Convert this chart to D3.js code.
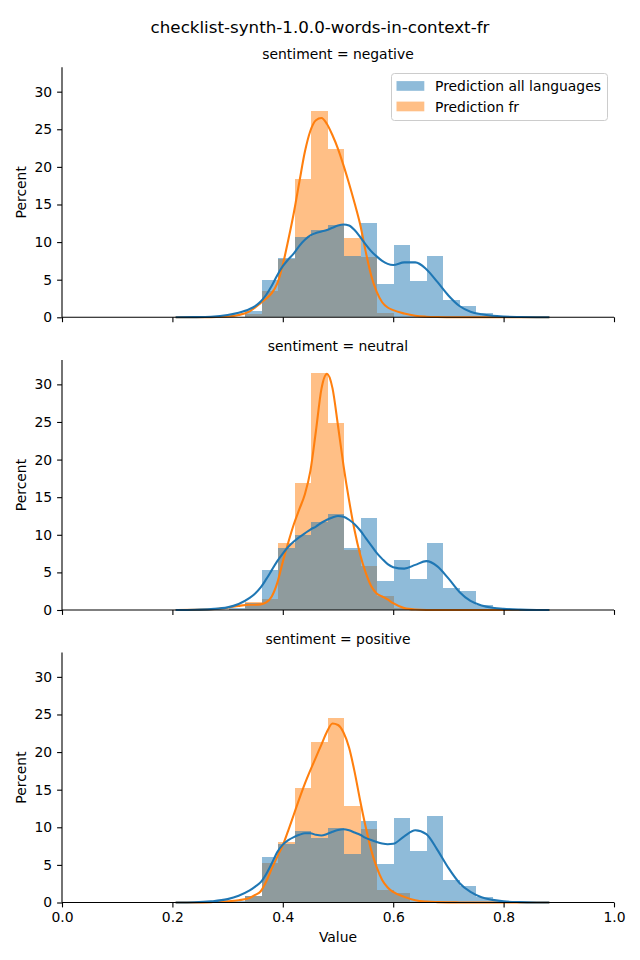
<!DOCTYPE html>
<html><head><meta charset="utf-8">
<script src="https://cdn.jsdelivr.net/npm/d3@7"></script>
<style>body{margin:0;background:#fff} text{font-family:"DejaVu Sans",sans-serif;fill:#000}</style>
</head><body>
<svg id="c" width="640" height="960"></svg>
<script>
// ---------- data ----------
const chartTitle = "checklist-synth-1.0.0-words-in-context-fr";
const facets = ["sentiment = negative", "sentiment = neutral", "sentiment = positive"];
const seriesNames = ["Prediction all languages", "Prediction fr"];
const seriesColors = ["#1f77b4", "#ff7f0e"];
const xTicks = [0, 0.2, 0.4, 0.6, 0.8, 1.0];
const yTicks = [0, 5, 10, 15, 20, 25, 30];

// histogram bins (percent per bin)
const binStart = 0.2119, binWidth = 0.02993;
const histAllNegative = [0, 0, 0.03, 0.1, 0.8, 4.95, 7.9, 10.7, 11.6, 12.3, 8.2, 12.6, 4.45, 9.6, 4.8, 8.2, 2.3, 1.5, 0.55, 0.2];
const histFrNegative  = [0, 0, 0.02, 0.08, 0.5, 3.5, 7.7, 18.4, 27.4, 22.4, 10.5, 8.0, 0.6, 0.1, 0, 0, 0, 0, 0, 0];
const histAllNeutral  = [0, 0, 0.05, 0.2, 0.9, 5.3, 8.2, 10.0, 11.7, 12.8, 8.3, 12.2, 3.9, 6.6, 4.1, 8.9, 2.9, 2.5, 0.7, 0.2];
const histFrNeutral   = [0, 0, 0.03, 0.15, 1.1, 1.5, 8.9, 16.9, 31.5, 24.9, 8.0, 5.9, 1.8, 0.3, 0, 0, 0, 0, 0, 0];
const histAllPositive = [0, 0, 0.05, 0.2, 0.9, 6.0, 7.8, 9.5, 8.6, 9.9, 6.4, 10.8, 5.1, 11.2, 6.8, 11.5, 3.0, 2.2, 0.75, 0.2];
const histFrPositive  = [0, 0, 0.02, 0.1, 0.8, 5.2, 8.0, 15.2, 21.4, 24.5, 12.8, 9.75, 1.7, 1.2, 0.1, 0, 0, 0, 0, 0];

// KDE curves (percent scale)
const kdeX = [0.2078, 0.24, 0.27, 0.30, 0.32, 0.34, 0.35, 0.36, 0.37, 0.38, 0.39, 0.40, 0.41, 0.42, 0.43, 0.44, 0.45, 0.46, 0.47, 0.48, 0.49, 0.50, 0.51, 0.52, 0.53, 0.54, 0.55, 0.56, 0.57, 0.58, 0.59, 0.60, 0.62, 0.64, 0.66, 0.68, 0.70, 0.72, 0.74, 0.76, 0.78, 0.80, 0.83, 0.86, 0.881];
const kdeAllNegative = [0, 0.02, 0.08, 0.3, 0.6, 1.1, 1.5, 2.1, 3.0, 4.2, 5.6, 6.8, 7.7, 8.5, 9.5, 10.3, 10.9, 11.2, 11.4, 11.6, 11.9, 12.2, 12.35, 12.2, 11.6, 10.7, 9.7, 8.8, 8.1, 7.5, 7.1, 6.95, 7.3, 7.3, 6.4, 4.7, 2.9, 1.5, 0.75, 0.4, 0.2, 0.1, 0.04, 0.01, 0];
const kdeFrNegative  = [0, 0, 0.02, 0.1, 0.3, 0.8, 1.3, 1.9, 2.5, 3.2, 4.5, 7.0, 10.3, 13.9, 18.0, 22.0, 24.8, 26.2, 26.5, 25.7, 24.2, 22.4, 20.2, 17.8, 15.2, 12.4, 8.8, 5.6, 3.4, 2.0, 1.3, 0.95, 0.5, 0.2, 0.08, 0.03, 0.01, 0, 0, 0, 0, 0, 0, 0, 0];
const kdeAllNeutral  = [0, 0.03, 0.12, 0.35, 0.8, 1.6, 2.2, 3.0, 4.1, 5.3, 6.5, 7.5, 8.4, 9.1, 9.7, 10.2, 10.7, 11.1, 11.6, 12.0, 12.3, 12.5, 12.4, 12.0, 11.4, 10.6, 9.6, 8.6, 7.6, 6.8, 6.1, 5.7, 5.5, 6.0, 6.5, 5.8, 4.2, 2.4, 1.2, 0.6, 0.3, 0.15, 0.05, 0.01, 0];
const kdeFrNeutral   = [0, 0.02, 0.1, 0.3, 0.55, 0.7, 0.7, 0.75, 1.0, 1.8, 3.6, 6.4, 9.0, 11.4, 13.4, 15.4, 18.5, 23.8, 29.4, 31.4, 29.5, 24.5, 19.2, 14.6, 10.6, 7.4, 5.0, 3.2, 2.2, 1.8, 1.4, 0.9, 0.25, 0.06, 0.01, 0, 0, 0, 0, 0, 0, 0, 0, 0, 0];
const kdeAllPositive = [0, 0.03, 0.15, 0.45, 0.9, 1.6, 2.1, 2.7, 3.8, 5.2, 6.7, 7.7, 8.3, 8.7, 9.0, 9.2, 9.2, 9.0, 8.9, 9.1, 9.4, 9.65, 9.75, 9.6, 9.3, 9.0, 8.6, 8.3, 8.05, 7.85, 7.75, 7.8, 8.8, 9.6, 9.1, 7.0, 4.6, 2.6, 1.4, 0.7, 0.35, 0.15, 0.05, 0.01, 0];
const kdeFrPositive  = [0, 0.01, 0.05, 0.15, 0.3, 0.6, 1.0, 1.5, 2.8, 4.5, 6.1, 7.6, 9.6, 11.7, 13.8, 15.8, 17.6, 19.3, 21.0, 22.7, 23.8, 23.6, 22.6, 20.6, 17.4, 13.6, 10.1, 7.0, 4.7, 3.0, 2.0, 1.4, 0.75, 0.3, 0.12, 0.05, 0.02, 0.01, 0, 0, 0, 0, 0, 0, 0];

const histAll = [histAllNegative, histAllNeutral, histAllPositive];
const histFr = [histFrNegative, histFrNeutral, histFrPositive];
const kdeAll = [kdeAllNegative, kdeAllNeutral, kdeAllPositive];
const kdeFr = [kdeFrNegative, kdeFrNeutral, kdeFrPositive];

// ---------- layout ----------
const svg = d3.select("#c");
const left = 62, right = 614;
const panelTops = [67.3, 360, 652.5];
const panelH = 250;
const FS = 13.9;

svg.append("text").attr("x", 320).attr("y", 33).attr("text-anchor", "middle")
  .style("font-size", "16.7px").text(chartTitle);

const x = d3.scaleLinear().domain([0, 1]).range([left, right]);

facets.forEach((facet, i) => {
  const top = panelTops[i];
  const y = d3.scaleLinear().domain([0, 33.24]).range([top + panelH, top]);
  const g = svg.append("g");

  const drawBars = (vals, color) => {
    g.append("g").selectAll("rect").data(vals).join("rect")
      .attr("x", (d, k) => x(binStart + k * binWidth))
      .attr("width", (d, k) => x(binStart + (k + 1) * binWidth) - x(binStart + k * binWidth))
      .attr("y", d => y(d))
      .attr("height", d => y(0) - y(d))
      .attr("fill", color).attr("fill-opacity", 0.5)
      .attr("shape-rendering", "crispEdges");
  };
  drawBars(histFr[i], seriesColors[1]);
  drawBars(histAll[i], seriesColors[0]);

  const line = d3.line().x(d => x(d[0])).y(d => y(d[1])).curve(d3.curveMonotoneX);
  g.append("path").datum(kdeX.map((v, k) => [v, kdeFr[i][k]]))
    .attr("d", line).attr("fill", "none").attr("stroke", seriesColors[1]).attr("stroke-width", 2.08)
    .attr("stroke-linejoin", "round").attr("stroke-linecap", "square");
  g.append("path").datum(kdeX.map((v, k) => [v, kdeAll[i][k]]))
    .attr("d", line).attr("fill", "none").attr("stroke", seriesColors[0]).attr("stroke-width", 2.08)
    .attr("stroke-linejoin", "round").attr("stroke-linecap", "square");

  // axes
  const ya = g.append("g").attr("transform", `translate(${left},0)`)
    .call(d3.axisLeft(y).tickValues(yTicks).tickSize(4.9).tickPadding(4.9).tickFormat(d3.format("d")));
  const xa = g.append("g").attr("transform", `translate(0,${y(0)})`)
    .call(d3.axisBottom(x).tickValues(xTicks).tickSize(4.9).tickPadding(4.9)
      .tickFormat(i === 2 ? d3.format(".1f") : () => ""));
  [ya, xa].forEach(a => {
    a.select(".domain").attr("stroke", "#000").attr("stroke-width", 1.1);
    a.selectAll(".tick line").attr("stroke", "#000").attr("stroke-width", 1.1);
    a.selectAll(".tick text").style("font-size", FS + "px").attr("fill", "#000")
      .style("font-family", '"DejaVu Sans", sans-serif');
  });
  // y domain line with no outer tick offset
  ya.select(".domain").attr("d", `M0,${y(0)}V${top}`);
  xa.select(".domain").attr("d", `M${left},0H${right}`);

  // facet title
  g.append("text").attr("x", (left + right) / 2).attr("y", top - 8.6).attr("text-anchor", "middle")
    .style("font-size", FS + "px").text(facet);

  // y label
  g.append("text").attr("transform", `translate(25.5,${top + panelH / 2}) rotate(-90)`)
    .attr("text-anchor", "middle").style("font-size", FS + "px").text("Percent");
});

svg.append("text").attr("x", (left + right) / 2).attr("y", 942).attr("text-anchor", "middle")
  .style("font-size", FS + "px").text("Value");

// legend
const lg = svg.append("g");
lg.append("rect").attr("x", 391.5).attr("y", 73.5).attr("width", 216).attr("height", 47)
  .attr("rx", 3).attr("fill", "#fff").attr("fill-opacity", 0.8).attr("stroke", "#cccccc").attr("stroke-width", 1);
seriesNames.forEach((name, k) => {
  const cy = 86 + k * 20.5;
  lg.append("rect").attr("x", 396.5).attr("y", cy - 4.9).attr("width", 27.8).attr("height", 9.7)
    .attr("fill", seriesColors[k]).attr("fill-opacity", 0.5);
  lg.append("text").attr("x", 435).attr("y", cy + 5).style("font-size", FS + "px").text(name);
});
</script>
</body></html>
